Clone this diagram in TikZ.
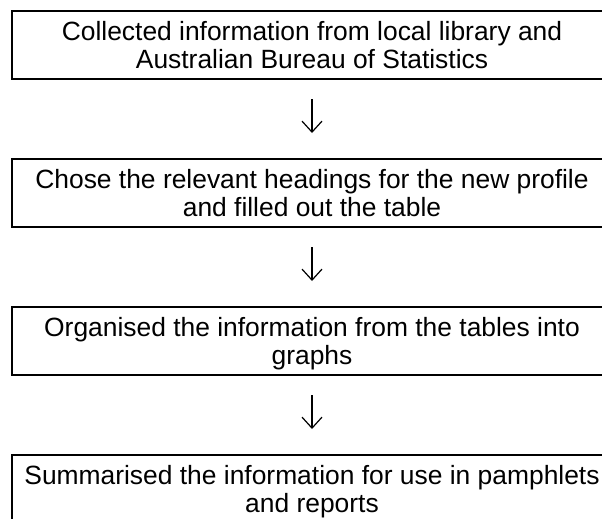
\documentclass[tikz,border=0pt]{standalone}
\usepackage{fontspec}
\setmainfont{Liberation Sans}
\usetikzlibrary{arrows.meta}
\newcommand\lastline[1]{\raisebox{0pt}[\height][0pt]{#1}}
\begin{document}
\begin{tikzpicture}[x=1pt,y=-1pt,
  stepbox/.style={draw=black, line width=2.2pt, outer sep=0pt, inner sep=0pt,
    minimum width=600pt, minimum height=68pt, align=center,
    font=\fontsize{26.4pt}{28.4pt}\selectfont},
  flow/.style={line width=1.2pt, shorten <=20pt, shorten >=26pt,
    -{Straight Barb[length=11pt,width=20pt,line width=1.2pt]}}]
  \fill[white] (0,0) rectangle (602,519);
  \useasboundingbox (0,0) rectangle (602,519);
  \node[stepbox] (b1) at (312,45)  {Collected information from local library and\\ \lastline{Australian Bureau of Statistics}};
  \node[stepbox] (b2) at (312,193) {Chose the relevant headings for the new profile\\ \lastline{and filled out the table}};
  \node[stepbox] (b3) at (312,341) {Organised the information from the tables into\\ \lastline{graphs}};
  \node[stepbox] (b4) at (312,489) {Summarised the information for use in pamphlets\\ \lastline{and reports}};
  \draw[flow] (b1) -- (b2);
  \draw[flow] (b2) -- (b3);
  \draw[flow] (b3) -- (b4);
\end{tikzpicture}
\end{document}
